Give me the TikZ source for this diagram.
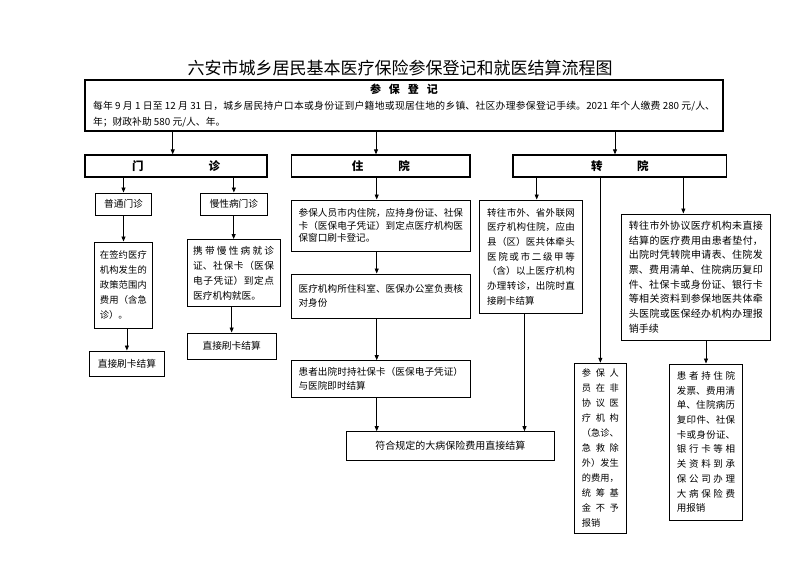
\documentclass[tikz,border=0pt]{standalone}
\usepackage{fontspec}
\setmainfont{Noto Sans CJK SC}
\usetikzlibrary{arrows.meta,calc}
\XeTeXlinebreaklocale "zh"
\XeTeXlinebreakskip=0pt plus 3pt
\tolerance=10000
\hbadness=10000
\setlength\parindent{0pt}
\newcommand\myfs[2]{\fontsize{#1}{#2}\selectfont}
\tikzset{
  box/.style={draw, line width=1pt, inner sep=0pt, align=justify},
  sbox/.style={draw, line width=1pt, inner sep=0pt},
  hdr/.style={draw, line width=1.3pt, inner sep=0pt, font=\myfs{11.5}{13}\bfseries},
  arr/.style={-{Triangle[length=5pt,width=4pt]}, line width=0.8pt},
}
\begin{document}
\begin{tikzpicture}[x=1pt,y=-1pt]
\useasboundingbox (0,0) rectangle (800,565);
\node[font=\myfs{17}{20}] (title) at (400,68) {六安市城乡居民基本医疗保险参保登记和就医结算流程图};
\node[box, line width=1.3pt, minimum width=638pt, minimum height=51pt, text width=622pt, font=\myfs{9.8}{16}] (top) at (404,105.5)
 {{\centering\bfseries\myfs{11}{16}参\hspace{8pt}保\hspace{8pt}登\hspace{8pt}记\par}每年 9 月 1 日至 12 月 31 日，城乡居民持户口本或身份证到户籍地或现居住地的乡镇、社区办理参保登记手续。2021 年个人缴费 280 元/人、\linebreak
 年；财政补助 580 元/人、年。};
% row 2
\node[hdr, minimum width=182pt, minimum height=22pt] (mz) at (176,166) {门\hspace{65pt}诊};
\node[hdr, minimum width=178.3pt, minimum height=22pt] (zy) at (380.85,166) {住\hspace{35pt}院};
\node[hdr, minimum width=213.7pt, minimum height=22pt] (zh) at (619.85,166) {转\hspace{34.5pt}院};
% outpatient
\node[sbox, minimum width=56pt, minimum height=22.5pt, font=\myfs{9.7}{12}] (pt) at (123.5,204.25) {普通门诊};
\node[sbox, minimum width=66.3pt, minimum height=22.5pt, font=\myfs{9.7}{12}] (mx) at (233.85,204.25) {慢性病门诊};
\node[box, minimum width=58.7pt, minimum height=86pt, text width=47pt, font=\myfs{9.3}{15}] (qy) at (123.35,285)
 {在签约医疗\linebreak
 机构发生的\linebreak
 政策范围内\linebreak
 费用（含急\linebreak
 诊）。};
\node[box, minimum width=92.7pt, minimum height=67pt, text width=81pt, font=\myfs{9.7}{15}] (xd) at (233.65,273)
 {携带慢性病就诊\linebreak
 证、社保卡（医保\linebreak
 电子凭证）到定点\linebreak
 医疗机构就医。};
\node[sbox, minimum width=75.2pt, minimum height=25pt, font=\myfs{9.7}{12}] (zj1) at (126.9,363.5) {直接刷卡结算};
\node[sbox, minimum width=88.7pt, minimum height=26.5pt, font=\myfs{9.7}{12}] (zj2) at (231.65,346.25) {直接刷卡结算};
% inpatient
\node[box, minimum width=178.3pt, minimum height=51.5pt, text width=164.5pt, font=\myfs{9.6}{12.5}] (zy1) at (380.85,225.75)
 {参保人员市内住院，应持身份证、社保\linebreak
 卡（医保电子凭证）到定点医疗机构医\linebreak
 保窗口刷卡登记。};
\node[box, minimum width=178.3pt, minimum height=44pt, text width=164.5pt, font=\myfs{9.6}{14}] (zy2) at (380.85,296)
 {医疗机构所住科室、医保办公室负责核\linebreak
 对身份};
\node[box, minimum width=178.3pt, minimum height=36.6pt, text width=164.5pt, font=\myfs{9.6}{14}] (zy3) at (380.85,379)
 {患者出院时持社保卡（医保电子凭证）\linebreak
 与医院即时结算};
\node[sbox, minimum width=207.3pt, minimum height=28.3pt, font=\myfs{10}{12}] (fh) at (450.35,445.85) {符合规定的大病保险费用直接结算};
% transfer
\node[box, minimum width=103.4pt, minimum height=113.3pt, text width=87.7pt, font=\myfs{9.5}{14.7}] (sw) at (531,256.65)
 {转往市外、省外联网\linebreak
 医疗机构住院，应由\linebreak
 县（区）医共体牵头\linebreak
 医院或市二级甲等\linebreak
 （含）以上医疗机构\linebreak
 办理转诊，出院时直\linebreak
 接刷卡结算};
\node[box, minimum width=148.3pt, minimum height=126pt, text width=134pt, font=\myfs{10}{14.66}] (yb) at (695.85,277)
 {转往市外协议医疗机构未直接\linebreak
 结算的医疗费用由患者垫付，\linebreak
 出院时凭转院申请表、住院发\linebreak
 票、费用清单、住院病历复印\linebreak
 件、社保卡或身份证、银行卡\linebreak
 等相关资料到参保地医共体牵\linebreak
 头医院或医保经办机构办理报\linebreak
 销手续};
\node[box, minimum width=52.7pt, minimum height=170pt, text width=37pt, font=\myfs{9.2}{15}] (cb) at (600.35,448.3)
 {参保人\linebreak
 员在非\linebreak
 协议医\linebreak
 疗机构\linebreak
 （急诊、\linebreak
 急救除\linebreak
 外）发生\linebreak
 的费用，\linebreak
 统筹基\linebreak
 金不予\linebreak
 报销};
\node[box, minimum width=73.4pt, minimum height=156pt, text width=58.3pt, font=\myfs{9.5}{14.7}] (hz) at (706,442)
 {患者持住院\linebreak
 发票、费用清\linebreak
 单、住院病历\linebreak
 复印件、社保\linebreak
 卡或身份证、\linebreak
 银行卡等相\linebreak
 关资料到承\linebreak
 保公司办理\linebreak
 大病保险费\linebreak
 用报销};
% connectors
\draw[arr] ([xshift=-3.3pt]mz.north |- top.south) -- ([xshift=-3.3pt]mz.north);
\draw[arr] ([xshift=-4.85pt]zy.north |- top.south) -- ([xshift=-4.85pt]zy.north);
\draw[arr] ([xshift=-4.85pt]zh.north |- top.south) -- ([xshift=-4.85pt]zh.north);
\draw[arr] (pt.north |- mz.south) -- (pt.north);
\draw[arr] (mx.north |- mz.south) -- (mx.north);
\draw[arr] (pt.south) -- (pt.south |- qy.north);
\draw[arr] (zj1.north |- qy.south) -- (zj1.north);
\draw[arr] (xd.north |- mx.south) -- (xd.north);
\draw[arr] (zj2.north |- xd.south) -- (zj2.north);
\draw[arr] ([xshift=-4.15pt]zy.south) -- ([xshift=-4.15pt]zy.south |- zy1.north);
\draw[arr] ([xshift=-4.15pt]zy1.south) -- ([xshift=-4.15pt]zy1.south |- zy2.north);
\draw[arr] ([xshift=-4.15pt]zy2.south) -- ([xshift=-4.15pt]zy2.south |- zy3.north);
\draw[arr] ([xshift=-4.15pt]zy3.south) -- ([xshift=-4.15pt]zy3.south |- fh.north);
\draw[arr] ([xshift=-6.5pt]sw.south) -- ([xshift=-6.5pt]sw.south |- fh.north);
\draw[arr] ([xshift=5.7pt]sw.north |- zh.south) -- ([xshift=5.7pt]sw.north);
\draw[arr] (cb.north |- zh.south) -- (cb.north);
\draw[arr] ([xshift=-12.5pt]yb.north |- zh.south) -- ([xshift=-12.5pt]yb.north);
\draw[arr] (hz.north |- yb.south) -- (hz.north);
\end{tikzpicture}
\end{document}
